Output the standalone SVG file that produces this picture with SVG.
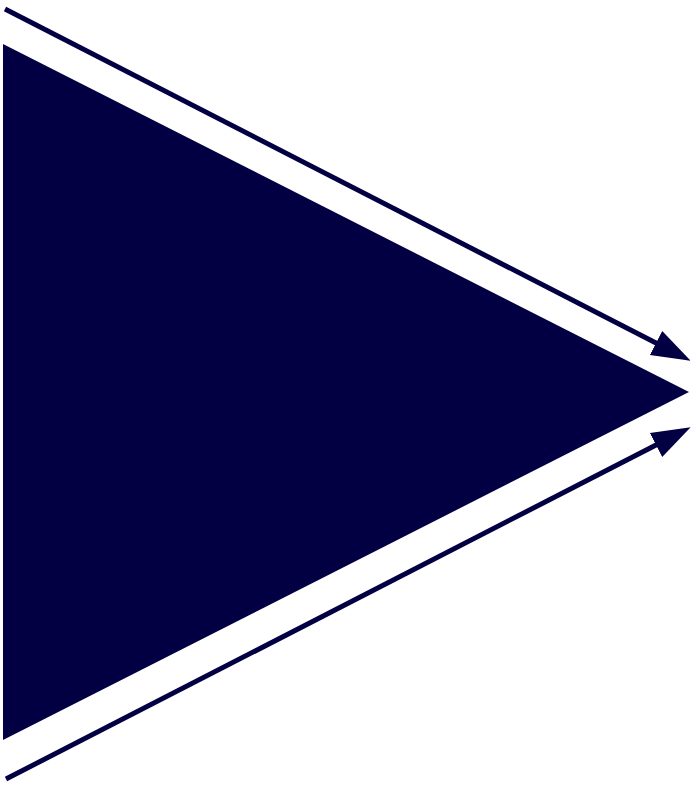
<svg xmlns="http://www.w3.org/2000/svg" width="696" height="787" viewBox="0 0 696 787">
<style>
.conn{stroke:#020043;stroke-width:5;fill:none}
.tri{fill:#020043}
</style>
<defs>
<marker id="ah" markerUnits="userSpaceOnUse" markerWidth="40" markerHeight="30" viewBox="0 -13 37 26" refX="1" refY="0" orient="auto">
<path d="M0,-12.5 L36,0 L0,12.5 z" fill="#020043"/>
</marker>
</defs>
<rect width="696" height="787" fill="#ffffff"/>
<g id="triangle">
<polygon class="tri" points="3,44 689,392 3,740"/>
</g>
<g id="connectors">
<line class="conn" x1="5" y1="9" x2="657" y2="343.5" marker-end="url(#ah)"/>
<line class="conn" x1="6" y1="779" x2="657" y2="444.5" marker-end="url(#ah)"/>
</g>
</svg>
